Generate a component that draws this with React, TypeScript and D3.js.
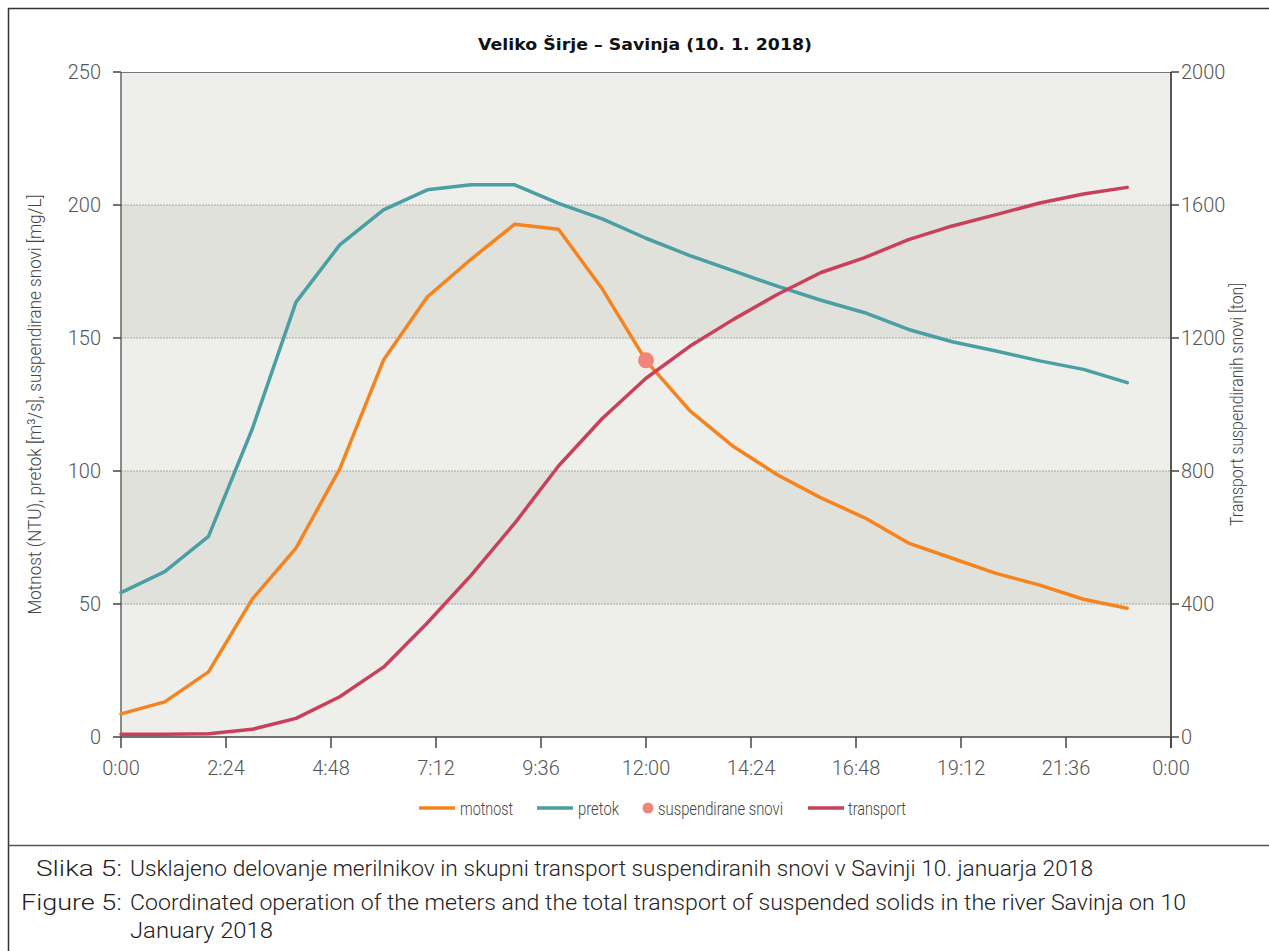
import React from "react";
import * as d3 from "d3";

const hours = [0, 1, 2, 3, 4, 5, 6, 7, 8, 9, 10, 11, 12, 13, 14, 15, 16, 17, 18, 19, 20, 21, 22, 23];
const motnost = [8.7, 13.2, 24.5, 51.8, 71, 100.8, 141.7, 165.4, 179.6, 192.8, 190.9, 168.5, 141.5, 122.7, 109.2, 98.6, 89.9, 82.4, 72.9, 67.2, 61.5, 57.1, 51.8, 48.4];
const pretok = [54.3, 62.2, 75.4, 115.8, 163.5, 185, 198.2, 205.7, 207.6, 207.6, 200.6, 194.8, 187.5, 181, 175.2, 169.5, 164.2, 159.5, 153.2, 148.6, 145.1, 141.4, 138.2, 133.2];
const transport = [8, 8, 10, 23, 56, 121, 210, 343, 486, 643, 815, 958, 1079, 1175, 1256, 1331, 1397, 1442, 1496, 1537, 1571, 1606, 1633, 1653];
const suspTime = [12];
const suspValue = [141.6];

const xTicks = [0, 2.4, 4.8, 7.2, 9.6, 12, 14.4, 16.8, 19.2, 21.6, 24];
const xTickLabels = ["0:00", "2:24", "4:48", "7:12", "9:36", "12:00", "14:24", "16:48", "19:12", "21:36", "0:00"];
const yLeftTicks = [0, 50, 100, 150, 200, 250];
const yRightTicks = [0, 400, 800, 1200, 1600, 2000];

const title = "Veliko Širje – Savinja (10. 1. 2018)";
const yLeftTitle = "Motnost (NTU), pretok [m³/s], suspendirane snovi [mg/L]";
const yRightTitle = "Transport suspendiranih snovi [ton]";
const legendLabels = ["motnost", "pretok", "suspendirane snovi", "transport"];
const legendColors = ["#f5841f", "#4a9fa5", "#f2857a", "#c9405a"];
const legendTypes = ["line", "line", "dot", "line"];

const COL_M = "#f5841f";
const COL_P = "#4a9fa5";
const COL_S = "#f2857a";
const COL_T = "#c9405a";
const FONT = "Roboto, 'Open Sans', sans-serif";

export default function App() {
  const L = 121, R = 1171, T = 72, B = 737;
  const x = d3.scaleLinear().domain([0, 24]).range([L, R]);
  const yL = d3.scaleLinear().domain([0, 250]).range([B, T]);
  const yR = d3.scaleLinear().domain([0, 2000]).range([B, T]);

  const lineL = d3.line<number>().x((_, i) => x(hours[i])).y((d) => yL(d));
  const lineR = d3.line<number>().x((_, i) => x(hours[i])).y((d) => yR(d));

  const bands = [0, 50, 100, 150, 200];

  const legendX = [419, 537, 648, 808];
  const legendTextX = [460, 578, 658, 848];
  const legendTextW = [53, 41, 125, 58];

  return (
    <svg
      width={1269}
      height={951}
      style={{ position: "absolute", left: 0, top: 0, background: "#fff" }}
      fontFamily={FONT}
    >
      {/* frame */}
      <path d="M8.5,951 V8.5 H1269" fill="none" stroke="#333" strokeWidth={1.5} />
      <line x1={8} x2={1269} y1={845.5} y2={845.5} stroke="#555" strokeWidth={1.5} />

      <text x={645} y={50} textAnchor="middle" fontFamily="'DejaVu Sans', sans-serif" fontWeight="bold" fontSize={16.5} textLength={334} lengthAdjust="spacingAndGlyphs" fill="#111">
        {title}
      </text>

      {/* bands */}
      {bands.map((b, i) => (
        <rect key={b} x={L} y={yL(b + 50)} width={R - L} height={yL(b) - yL(b + 50)} fill={i % 2 === 0 ? "#eeeeea" : "#e1e1dc"} />
      ))}
      {[50, 100, 150, 200].map((v) => (
        <line key={v} x1={L} x2={R} y1={yL(v)} y2={yL(v)} stroke="#a6a6a2" strokeWidth={1} strokeDasharray="2,1" />
      ))}
      <line x1={L} x2={R} y1={T + 0.5} y2={T + 0.5} stroke="#777" strokeWidth={1} />

      {/* axes */}
      <line x1={L} x2={L} y1={T} y2={B} stroke="#666" strokeWidth={1.5} />
      <line x1={R} x2={R} y1={T} y2={748} stroke="#222" strokeWidth={1.5} />
      <line x1={L} x2={R} y1={B} y2={B} stroke="#444" strokeWidth={1.5} />

      {yLeftTicks.map((v) => (
        <g key={"yl" + v}>
          <line x1={113} x2={L} y1={yL(v)} y2={yL(v)} stroke="#444" strokeWidth={1.5} />
          <text x={101} y={yL(v) + 7} textAnchor="end" fontSize={20} fontWeight={300} fill="#555">{v}</text>
        </g>
      ))}
      {yRightTicks.map((v) => (
        <g key={"yr" + v}>
          <line x1={R} x2={1179} y1={yR(v)} y2={yR(v)} stroke="#444" strokeWidth={1.5} />
          <text x={1181} y={yR(v) + 7} textAnchor="start" fontSize={20} fontWeight={300} fill="#555">{v}</text>
        </g>
      ))}
      {xTicks.map((v, i) => (
        <g key={"x" + i}>
          <line x1={x(v)} x2={x(v)} y1={B} y2={748} stroke="#444" strokeWidth={1.5} />
          <text x={x(v)} y={775} textAnchor="middle" fontSize={20} fontWeight={300} fill="#555">{xTickLabels[i]}</text>
        </g>
      ))}

      <text transform={`translate(41,${(T + B) / 2}) rotate(-90)`} textAnchor="middle" fontSize={19} fontWeight={300} fill="#444" textLength={420} lengthAdjust="spacingAndGlyphs">
        {yLeftTitle}
      </text>
      <text transform={`translate(1243,${(T + B) / 2}) rotate(-90)`} textAnchor="middle" fontSize={19} fontWeight={300} fill="#444" textLength={243} lengthAdjust="spacingAndGlyphs">
        {yRightTitle}
      </text>

      {/* series */}
      <path d={lineL(pretok) || ""} fill="none" stroke={COL_P} strokeWidth={3.5} strokeLinejoin="round" strokeLinecap="round" />
      <path d={lineL(motnost) || ""} fill="none" stroke={COL_M} strokeWidth={3.5} strokeLinejoin="round" strokeLinecap="round" />
      {suspTime.map((t, i) => (
        <circle key={"s" + i} cx={x(t)} cy={yL(suspValue[i])} r={8} fill={COL_S} />
      ))}
      <path d={lineR(transport) || ""} fill="none" stroke={COL_T} strokeWidth={3.5} strokeLinejoin="round" strokeLinecap="round" />

      {/* legend */}
      {legendLabels.map((label, i) => (
        <g key={label}>
          {legendTypes[i] === "line" ? (
            <line x1={legendX[i]} x2={legendX[i] + 36} y1={808} y2={808} stroke={legendColors[i]} strokeWidth={3.5} />
          ) : (
            <circle cx={legendX[i]} cy={808} r={5.5} fill={legendColors[i]} />
          )}
          <text x={legendTextX[i]} y={815} fontSize={19} fontWeight={300} fill="#444" textLength={legendTextW[i]} lengthAdjust="spacingAndGlyphs">{label}</text>
        </g>
      ))}

      {/* caption */}
      <text x={36} y={876} fontSize={22} fontWeight={300} fill="#222" textLength={86} lengthAdjust="spacingAndGlyphs">Slika 5:</text>
      <text x={130} y={876} fontSize={22} fontWeight={300} fill="#222" textLength={963} lengthAdjust="spacingAndGlyphs">
        Usklajeno delovanje merilnikov in skupni transport suspendiranih snovi v Savinji 10. januarja 2018
      </text>
      <text x={21} y={910} fontSize={22} fontWeight={300} fill="#222" textLength={101} lengthAdjust="spacingAndGlyphs">Figure 5:</text>
      <text x={130} y={910} fontSize={22} fontWeight={300} fill="#222" textLength={1056} lengthAdjust="spacingAndGlyphs">
        Coordinated operation of the meters and the total transport of suspended solids in the river Savinja on 10
      </text>
      <text x={130} y={938} fontSize={22} fontWeight={300} fill="#222" textLength={143} lengthAdjust="spacingAndGlyphs">
        January 2018
      </text>
    </svg>
  );
}
